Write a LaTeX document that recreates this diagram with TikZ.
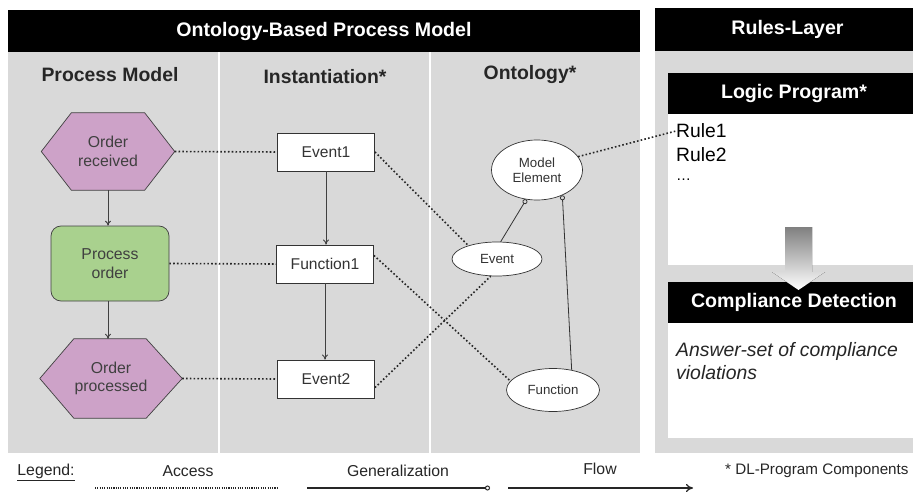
\documentclass[tikz,border=0pt]{standalone}
\usepackage{fontspec}
\setmainfont{Liberation Sans}
\usetikzlibrary{arrows.meta,shapes.geometric,backgrounds}
\definecolor{panel}{HTML}{D9D9D9}
\definecolor{mauve}{HTML}{CDA2C8}
\definecolor{leaf}{HTML}{A9D18E}
\definecolor{ink}{HTML}{404040}
\definecolor{shade}{HTML}{A6A6A6}

\begin{document}
\begin{tikzpicture}[x=1pt,y=-1pt,
  header/.style={fill=black,text=white,inner sep=0pt,
    font=\bfseries\fontsize{19.6}{23}\selectfont},
  coltitle/.style={font=\bfseries\fontsize{19.4}{23}\selectfont,text=black!85},
  hexlabel/.style={draw=none,text=ink,align=center,inner sep=0pt,
    font=\fontsize{15.8}{18.5}\selectfont},
  hexfill/.style={draw=ink,fill=mauve,line width=0.7pt},
  funcshape/.style={rounded corners=10pt,draw=ink,fill=leaf,text=ink,
    align=center,inner sep=0pt,line width=0.7pt,font=\fontsize{15.8}{18.5}\selectfont},
  instbox/.style={draw=black!80,fill=white,minimum width=97pt,minimum height=38pt,
    inner sep=0pt,line width=0.8pt,font=\fontsize{15.6}{18}\selectfont,text=black!80},
  concept/.style={ellipse,draw=black!80,fill=white,inner sep=0pt,align=center,
    line width=0.7pt,font=\fontsize{13.3}{15}\selectfont,text=black!80},
  access/.style={line width=1.6pt,dash pattern=on 1.6pt off 2.2pt,color=black!85},
  general/.style={line width=0.8pt,color=black!80,-{Circle[open,length=5pt,width=5pt,line width=0.8pt]}},
  flow/.style={line width=0.9pt,color=ink,-{To[length=5pt,width=6pt]}},
  legendtext/.style={font=\fontsize{15.8}{18}\selectfont,text=black!85},
  ruletext/.style={font=\fontsize{19.3}{22}\selectfont,inner sep=0pt,anchor=west}
]
\useasboundingbox (0,0) rectangle (913,492);

% ---------- panels (background) ----------
\begin{scope}[on background layer]
\fill[white] (0,0) rectangle (913,492);
\fill[panel] (8,52) rectangle (640,453);
\draw[white,line width=1.6pt] (219,52) -- (219,453);
\draw[white,line width=1.6pt] (430,52) -- (430,453);
\fill[panel] (655,51) rectangle (920,453);
\fill[white] (668,114) rectangle (920,265);
\fill[white] (668,323) rectangle (920,438);
\end{scope}

% ---------- left block: ontology-based process model ----------
\node[header,minimum width=632pt,minimum height=42pt] (obpm) at (324,31) {Ontology-Based Process Model};

\node[coltitle] (tpm)   at (110,75) {Process Model};
\node[coltitle] (tinst) at (325,77) {Instantiation*};
\node[coltitle] (tont)  at (530,75) {Ontology*};

% process model column
\node[hexlabel,minimum width=133pt,minimum height=77pt] (orec) at (108,151.5) {Order\\received};
\node[funcshape,minimum width=118pt,minimum height=75pt] (porder) at (110,263.5) {Process\\order};
\node[hexlabel,minimum width=142pt,minimum height=79pt] (oproc) at (111,378.5) {Order\\processed};
\begin{scope}[on background layer]
\draw[hexfill] (orec.west) -- ([xshift=30pt]orec.north west) -- ([xshift=-30pt]orec.north east)
  -- (orec.east) -- ([xshift=-30pt]orec.south east) -- ([xshift=30pt]orec.south west) -- cycle;
\draw[hexfill] (oproc.west) -- ([xshift=34pt]oproc.north west) -- ([xshift=-36pt]oproc.north east)
  -- (oproc.east) -- ([xshift=-36pt]oproc.south east) -- ([xshift=34pt]oproc.south west) -- cycle;
\end{scope}

% instantiation column
\node[instbox] (ev1) at (326,152) {Event1};
\node[instbox] (fn1) at (325,264) {Function1};
\node[instbox] (ev2) at (326,379) {Event2};

% ontology column
\node[concept,minimum width=91pt,minimum height=60pt] (melem) at (537,170) {Model\\Element};
\node[concept,minimum width=90pt,minimum height=34pt] (cev) at (497,259) {Event};
\node[concept,minimum width=93pt,minimum height=43pt] (cfn) at (553,390) {Function};

% ---------- right block: rules layer ----------
\node[header,minimum width=265pt,minimum height=43pt] (rules) at (787.5,29.5) {Rules-Layer};
\node[header,minimum width=252pt,minimum height=41pt] (lprog) at (794,93.5) {Logic Program*};
\node[header,minimum width=252pt,minimum height=41pt] (cdet) at (794,302.5) {Compliance Detection};

\node[ruletext] (r1) at (676,131) {Rule1};
\node[ruletext] (r2) at (676,155) {Rule2};
\node[ruletext,font=\fontsize{15}{18}\selectfont] (r3) at (676,180) {\dots};
\node[font=\itshape\fontsize{19.4}{23}\selectfont,align=left,anchor=west,inner sep=0pt,text=black!85]
  (answer) at (676,361.5) {Answer-set of compliance\\violations};

% thick grey arrow from the logic program into compliance detection
\fill[shade] (785,227) -- (812,227) -- (812,272) -- (825,272) -- (798.5,290)
  -- (772,272) -- (785,272) -- cycle;

% ---------- connectors ----------
\draw[access] (orec.east) -- (ev1.west);
\draw[access] (porder.east) -- (fn1.west);
\draw[access] (oproc.east) -- (ev2.west);
\draw[access] (ev1.east) -- (cev.155);
\draw[access] (fn1.10) -- (cfn.168);
\draw[access] (ev2.-10) -- (cev.-110);
\draw[access] (melem.18) -- (r1.west);

\draw[general] (cev.78) -- (melem.-110);
\draw[general] (cfn.47) -- (melem.-45);

\draw[flow] (orec.south) -- (orec.south |- porder.north);
\draw[flow] (orec.south |- porder.south) -- (orec.south |- oproc.north);
\draw[flow] (ev1.south) -- (ev1.south |- fn1.north);
\draw[flow] (fn1.south) -- (fn1.south |- ev2.north);

% ---------- legend ----------
\node[legendtext] (lg) at (46,472) {\underline{Legend:}};
\node[legendtext] (lacc) at (188,471) {Access};
\node[legendtext] (lgen) at (398,471) {Generalization};
\node[legendtext] (lflow) at (600,469) {Flow};
\node[legendtext,font=\fontsize{15.2}{18}\selectfont,anchor=west,inner sep=0pt] (ldl) at (725,471) {* DL-Program Components};
\coordinate (a1) at (95,488);  \coordinate (a2) at (278,488);
\coordinate (g1) at (307,488); \coordinate (g2) at (490,488);
\coordinate (f1) at (508,488); \coordinate (f2) at (693,488);
\draw[line width=1.8pt,dash pattern=on 1.1pt off 1.2pt,color=black!85] (a1) -- (a2);
\draw[line width=1.6pt,color=black!85,-{Circle[open,length=5pt,width=5pt,line width=1pt]}] (g1) -- (g2);
\draw[line width=1.3pt,color=black!85,-{To[length=7pt,width=8pt]}] (f1) -- (f2);
\end{tikzpicture}
\end{document}
